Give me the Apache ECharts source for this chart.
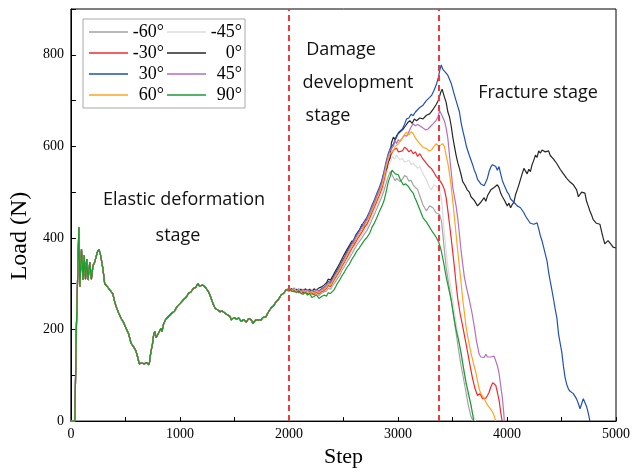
<!DOCTYPE html>
<html>
<head>
<meta charset="utf-8">
<script src="https://cdn.jsdelivr.net/npm/echarts@6/dist/echarts.min.js"></script>
<style>html,body{margin:0;padding:0;background:#fff}#c{width:633px;height:473px}</style>
</head>
<body>
<div id="c"></div>
<script>
// ---- DATA ----
var seriesNames = ['-60°', '-45°', '-30°', '0°', '30°', '45°', '60°', '90°'];
var seriesColors = ['#a3a3a3', '#dcdcdc', '#f2282e', '#262626', '#1f50b5', '#b46ec2', '#ffa51f', '#1b9a33'];
var stageLines = [2000, 3370];
var xTicks = [0, 1000, 2000, 3000, 4000, 5000];
var yTicks = [0, 200, 400, 600, 800];

// common elastic-stage curve (all specimens overlap here)
var sharedCurve = [[0,0],[36,0],[50,200],[73,423],[82,293],[97,375],[112,308],[121,362],[134,310],[145,354],[157,308],[173,347],[188,310],[203,340],[218,347],[243,369],[257,375],[273,362],[294,332],[310,300],[325,298],[340,292],[355,287],[370,288],[385,278],[400,262],[415,250],[438,236],[461,224],[484,215],[506,203],[530,190],[552,170],[575,162],[597,153],[612,140],[627,125],[650,127],[673,125],[695,128],[718,123],[733,150],[748,168],[760,190],[770,196],[782,182],[794,185],[810,195],[825,203],[836,196],[850,212],[867,221],[882,218],[897,229],[912,226],[927,236],[950,240],[973,250],[988,248],[1003,257],[1018,255],[1033,265],[1055,270],[1079,279],[1100,282],[1124,290],[1145,292],[1164,300],[1180,295],[1194,293],[1210,297],[1230,293],[1245,290],[1261,283],[1276,275],[1291,265],[1306,255],[1321,247],[1340,244],[1367,239],[1390,240],[1412,236],[1435,232],[1458,229],[1473,221],[1495,226],[1518,223],[1540,225],[1564,218],[1585,222],[1609,216],[1630,224],[1655,221],[1670,213],[1690,220],[1715,221],[1730,225],[1745,221],[1760,226],[1776,229],[1790,228],[1806,236],[1820,240],[1836,247],[1860,252],[1882,261],[1905,266],[1927,275],[1950,279],[1973,286],[1990,283]];

var loadM60 = [[2003,288],[2025,286],[2048,282],[2070,284],[2090,280],[2109,283],[2130,278],[2150,284],[2170,279],[2190,282],[2210,276],[2230,278],[2250,281],[2276,274],[2300,279],[2321,282],[2345,284],[2360,290],[2382,288],[2400,295],[2420,302],[2442,310],[2465,318],[2488,330],[2510,338],[2533,348],[2555,356],[2579,366],[2600,375],[2624,385],[2645,392],[2670,400],[2690,408],[2715,416],[2740,428],[2761,440],[2785,452],[2806,464],[2830,478],[2852,490],[2870,502],[2890,518],[2912,535],[2930,545],[2958,532],[2975,525],[2988,530],[3003,527],[3018,523],[3040,528],[3060,536],[3079,534],[3100,524],[3120,526],[3139,516],[3160,510],[3180,506],[3200,492],[3230,472],[3261,459],[3290,470],[3321,466],[3350,455],[3382,451],[3398,438],[3412,408],[3427,370],[3442,336],[3465,300],[3488,265],[3510,228],[3533,193],[3555,157],[3579,121],[3600,95],[3624,63],[3645,35],[3670,10],[3690,0]];

var loadM45 = [[2003,286],[2025,288],[2048,285],[2070,282],[2090,286],[2109,281],[2130,284],[2150,279],[2170,283],[2190,280],[2210,278],[2230,283],[2250,279],[2276,284],[2300,281],[2321,286],[2345,289],[2360,294],[2382,292],[2400,300],[2420,308],[2442,315],[2465,324],[2488,335],[2510,343],[2533,353],[2555,362],[2579,372],[2600,380],[2624,390],[2645,398],[2670,407],[2690,415],[2715,423],[2740,435],[2761,447],[2785,460],[2806,472],[2830,487],[2852,500],[2870,515],[2890,535],[2912,555],[2930,565],[2950,578],[2970,572],[2988,581],[3003,575],[3018,570],[3040,574],[3060,566],[3079,567],[3100,570],[3120,560],[3139,563],[3160,558],[3180,552],[3200,556],[3230,540],[3261,527],[3285,512],[3306,505],[3330,516],[3352,513],[3375,508],[3391,505],[3400,485],[3415,440],[3427,408],[3442,372],[3458,336],[3480,300],[3503,265],[3525,228],[3548,193],[3570,155],[3594,121],[3615,90],[3635,62],[3655,49],[3680,20],[3712,0]];

var loadM30 = [[2003,284],[2025,287],[2048,283],[2070,286],[2090,281],[2109,285],[2130,280],[2150,283],[2170,277],[2190,284],[2210,279],[2230,276],[2250,282],[2276,278],[2300,283],[2321,285],[2345,290],[2360,296],[2382,294],[2400,302],[2420,311],[2442,319],[2465,328],[2488,339],[2510,348],[2533,358],[2555,368],[2579,378],[2600,386],[2624,396],[2645,404],[2670,413],[2690,422],[2715,430],[2740,443],[2761,455],[2785,468],[2806,480],[2830,494],[2852,508],[2870,524],[2890,545],[2912,565],[2930,578],[2958,592],[2975,588],[2988,596],[3003,588],[3018,584],[3040,590],[3060,598],[3079,595],[3100,588],[3120,592],[3139,584],[3160,588],[3180,578],[3200,584],[3230,572],[3261,563],[3285,556],[3306,552],[3330,543],[3352,534],[3375,528],[3391,523],[3410,515],[3427,505],[3442,488],[3458,459],[3473,430],[3488,400],[3503,368],[3518,336],[3533,300],[3548,268],[3570,235],[3594,207],[3617,178],[3640,149],[3662,120],[3685,92],[3708,70],[3730,56],[3752,60],[3776,49],[3791,45],[3806,50],[3821,56],[3836,63],[3852,75],[3870,84],[3882,88],[3897,78],[3912,63],[3930,42],[3942,20],[3955,0]];

var load0 = [[2003,287],[2025,289],[2048,284],[2070,288],[2090,283],[2109,288],[2130,282],[2150,289],[2170,284],[2190,288],[2210,283],[2230,289],[2250,286],[2276,291],[2300,293],[2321,297],[2345,302],[2360,310],[2382,308],[2400,316],[2420,325],[2442,334],[2465,344],[2488,355],[2503,362],[2533,375],[2555,384],[2579,394],[2594,387],[2610,405],[2630,412],[2650,418],[2670,430],[2685,423],[2700,436],[2720,442],[2745,451],[2765,466],[2785,478],[2806,492],[2820,500],[2836,509],[2852,522],[2870,540],[2897,552],[2910,566],[2927,574],[2940,608],[2958,620],[2975,615],[2988,624],[3003,620],[3018,631],[3033,630],[3048,638],[3070,645],[3090,652],[3109,656],[3130,650],[3150,660],[3170,656],[3200,662],[3230,660],[3261,668],[3291,671],[3320,680],[3352,692],[3370,700],[3391,717],[3405,725],[3427,707],[3442,696],[3458,675],[3473,664],[3488,645],[3503,620],[3518,600],[3533,581],[3548,565],[3564,552],[3579,538],[3594,523],[3615,515],[3635,505],[3655,500],[3670,490],[3685,487],[3700,482],[3715,480],[3730,470],[3745,473],[3760,478],[3776,477],[3791,488],[3806,480],[3821,492],[3836,495],[3852,505],[3867,502],[3882,510],[3897,508],[3912,516],[3927,510],[3942,498],[3958,490],[3973,484],[3988,487],[4003,470],[4018,476],[4033,466],[4048,473],[4064,478],[4079,495],[4094,505],[4109,516],[4124,528],[4139,540],[4155,552],[4170,548],[4185,540],[4200,550],[4215,545],[4230,560],[4246,570],[4261,581],[4276,576],[4291,590],[4306,585],[4321,592],[4336,595],[4351,588],[4367,584],[4382,590],[4397,580],[4412,578],[4427,572],[4442,574],[4458,562],[4473,558],[4488,550],[4503,545],[4518,540],[4533,536],[4548,530],[4564,530],[4579,522],[4594,518],[4609,516],[4624,516],[4639,505],[4655,490],[4670,487],[4685,500],[4700,502],[4715,498],[4730,480],[4745,470],[4761,459],[4776,450],[4791,440],[4806,437],[4821,432],[4837,435],[4852,430],[4867,415],[4882,400],[4897,387],[4912,390],[4927,394],[4942,394],[4958,385],[4973,380],[4988,376],[5000,378]];

var load30 = [[2003,288],[2025,284],[2048,289],[2070,283],[2090,288],[2109,282],[2130,287],[2150,281],[2170,286],[2190,280],[2210,286],[2230,281],[2250,288],[2276,284],[2300,289],[2321,292],[2345,297],[2360,305],[2382,303],[2400,311],[2420,320],[2442,329],[2465,338],[2488,349],[2510,358],[2533,370],[2555,380],[2579,390],[2600,399],[2624,409],[2645,417],[2670,428],[2690,436],[2715,445],[2740,458],[2761,471],[2785,484],[2806,497],[2830,511],[2852,526],[2870,543],[2890,565],[2912,585],[2930,596],[2958,605],[2975,615],[2988,620],[3003,630],[3018,626],[3040,638],[3060,648],[3079,660],[3100,662],[3120,670],[3139,667],[3160,675],[3180,680],[3200,685],[3230,690],[3260,700],[3291,707],[3310,712],[3330,722],[3352,735],[3370,750],[3382,765],[3397,778],[3412,768],[3427,772],[3442,760],[3458,755],[3473,752],[3488,738],[3503,725],[3518,712],[3533,700],[3548,688],[3564,675],[3579,652],[3594,635],[3609,620],[3630,598],[3655,580],[3685,560],[3700,548],[3715,540],[3730,528],[3745,523],[3760,518],[3775,520],[3791,514],[3806,516],[3820,530],[3836,545],[3852,555],[3867,560],[3882,559],[3897,556],[3912,548],[3927,556],[3942,540],[3958,525],[3973,516],[3988,508],[4003,500],[4018,495],[4033,485],[4048,487],[4064,478],[4080,476],[4094,470],[4109,472],[4124,466],[4139,462],[4155,455],[4170,448],[4185,442],[4200,437],[4215,432],[4230,436],[4246,430],[4261,434],[4276,433],[4291,420],[4306,405],[4321,394],[4336,380],[4351,365],[4367,350],[4382,325],[4397,305],[4412,286],[4428,265],[4442,245],[4458,225],[4473,190],[4488,170],[4503,150],[4518,120],[4533,95],[4548,80],[4564,70],[4579,65],[4594,63],[4609,60],[4624,56],[4639,48],[4655,38],[4670,27],[4685,38],[4700,49],[4715,50],[4730,32],[4745,18],[4761,0]];

var load45 = [[2003,289],[2025,286],[2048,291],[2070,284],[2090,289],[2109,283],[2130,288],[2150,282],[2170,287],[2190,281],[2210,285],[2230,280],[2250,287],[2276,283],[2300,287],[2321,290],[2345,295],[2360,302],[2382,300],[2400,308],[2420,317],[2442,325],[2465,335],[2488,346],[2510,355],[2533,366],[2555,376],[2579,386],[2600,395],[2624,405],[2645,413],[2670,423],[2690,432],[2715,440],[2740,453],[2761,466],[2785,479],[2806,492],[2830,506],[2852,520],[2870,537],[2890,560],[2912,580],[2930,592],[2958,600],[2975,612],[2988,606],[3003,615],[3018,610],[3040,618],[3060,624],[3079,622],[3094,628],[3115,640],[3139,649],[3160,645],[3180,648],[3200,645],[3230,640],[3255,636],[3276,638],[3300,644],[3321,649],[3345,655],[3367,664],[3382,678],[3395,672],[3412,671],[3427,655],[3442,640],[3458,617],[3473,580],[3488,545],[3503,510],[3518,490],[3533,470],[3548,444],[3564,408],[3579,372],[3594,343],[3609,315],[3630,290],[3655,265],[3680,235],[3700,207],[3720,175],[3745,146],[3760,140],[3776,142],[3791,139],[3806,146],[3821,140],[3836,144],[3851,140],[3867,144],[3882,142],[3897,138],[3912,121],[3927,105],[3942,78],[3958,50],[3970,20],[3975,0]];

var load60 = [[2003,287],[2025,283],[2048,288],[2070,282],[2090,287],[2109,281],[2130,285],[2150,280],[2170,284],[2190,278],[2210,283],[2230,279],[2250,284],[2276,280],[2300,285],[2321,288],[2345,292],[2360,299],[2382,297],[2400,305],[2420,314],[2442,322],[2465,331],[2488,342],[2510,351],[2533,362],[2555,372],[2579,382],[2600,390],[2624,400],[2645,408],[2670,418],[2690,427],[2715,435],[2740,448],[2761,460],[2785,473],[2806,485],[2830,499],[2852,514],[2870,530],[2890,552],[2912,572],[2930,585],[2958,590],[2975,600],[2988,596],[3003,605],[3018,612],[3040,618],[3060,626],[3079,631],[3100,625],[3120,632],[3139,628],[3160,618],[3180,612],[3200,606],[3230,598],[3261,595],[3285,590],[3306,592],[3330,600],[3352,606],[3375,600],[3391,602],[3410,606],[3427,599],[3442,580],[3458,563],[3473,540],[3488,513],[3503,480],[3518,445],[3533,408],[3548,372],[3564,336],[3580,300],[3594,265],[3610,236],[3624,207],[3645,178],[3670,149],[3690,128],[3715,106],[3730,88],[3745,70],[3760,60],[3776,63],[3791,49],[3806,45],[3821,35],[3845,28],[3867,20],[3882,12],[3897,0]];

var load90 = [[2003,290],[2025,284],[2048,283],[2070,281],[2090,285],[2109,279],[2130,277],[2150,281],[2170,275],[2190,279],[2210,270],[2230,272],[2250,276],[2276,268],[2300,272],[2321,275],[2345,273],[2360,280],[2382,279],[2400,283],[2412,286],[2430,294],[2442,300],[2465,308],[2488,318],[2510,326],[2533,336],[2555,343],[2579,354],[2600,362],[2624,372],[2645,378],[2670,387],[2690,394],[2715,401],[2740,410],[2761,423],[2785,433],[2806,444],[2830,458],[2852,469],[2870,480],[2882,491],[2900,510],[2912,523],[2930,535],[2945,548],[2958,552],[2975,540],[2988,541],[3003,538],[3020,528],[3035,522],[3048,516],[3070,518],[3094,513],[3115,505],[3139,498],[3155,488],[3170,480],[3200,462],[3230,444],[3260,435],[3291,423],[3320,412],[3352,401],[3375,390],[3397,372],[3420,345],[3442,315],[3465,290],[3488,265],[3510,232],[3533,200],[3555,178],[3579,149],[3600,118],[3624,85],[3645,62],[3670,35],[3685,15],[3695,0]];

var specimenLoads = [loadM60, loadM45, loadM30, load0, load30, load45, load60, load90];

// ---- CHART ----
var chart = echarts.init(document.getElementById('c'), null, {renderer: 'canvas'});
var serif = 'Liberation Serif';
var sans = 'Open Sans';

var series = seriesNames.map(function (name, i) {
  var s = {
    name: name,
    type: 'line',
    data: sharedCurve.concat(specimenLoads[i]),
    symbol: 'none',
    showSymbol: false,
    smooth: false,
    lineStyle: {color: seriesColors[i], width: 1.2},
    itemStyle: {color: seriesColors[i]},
    emphasis: {disabled: true},
    z: 2 + i
  };
  if (i === seriesNames.length - 1) {
    s.markLine = {
      silent: true,
      symbol: ['none', 'none'],
      label: {show: false},
      lineStyle: {color: '#ee3a3f', type: [6, 4], width: 2},
      data: stageLines.map(function (v) { return {xAxis: v}; }),
      z: 20
    };
  }
  return s;
});

function note(text, x, y) {
  return {type: 'text', style: {text: text, x: x, y: y, fontFamily: sans, fontSize: 18, fill: '#111', align: 'center', verticalAlign: 'middle'}};
}

var option = {
  animation: false,
  backgroundColor: '#fff',
  grid: {left: 68, right: 16, top: 9, bottom: 47, show: true, borderColor: '#000', borderWidth: 1},
  legend: {
    data: seriesNames,
    left: 83, top: 19,
    width: 160,
    orient: 'horizontal',
    icon: 'rect',
    itemWidth: 39, itemHeight: 1.5, itemGap: 3,
    padding: [4, 3, 4, 6],
    borderColor: '#a8a8a8', borderWidth: 1,
    backgroundColor: '#fff',
    selectedMode: false,
    formatter: function (n) { return '{a|' + n + '}'; },
    textStyle: {
      fontFamily: serif, fontSize: 18, color: '#000',
      rich: {a: {fontFamily: serif, fontSize: 18, width: 31, align: 'right', lineHeight: 18.5, color: '#000'}}
    }
  },
  xAxis: {
    type: 'value', min: 0, max: 5000, interval: 500,
    name: 'Step', nameLocation: 'middle', nameGap: 23,
    nameTextStyle: {fontFamily: serif, fontSize: 22, color: '#000'},
    axisLine: {show: true, lineStyle: {color: '#000', width: 1}},
    axisTick: {show: true, inside: true, length: 4, lineStyle: {color: '#000'}},
    axisLabel: {
      fontFamily: serif, fontSize: 14, color: '#000', margin: 6,
      formatter: function (v) { return xTicks.indexOf(v) >= 0 ? String(v) : ''; }
    },
    splitLine: {show: false}
  },
  yAxis: {
    type: 'value', min: 0, max: 900, interval: 100,
    name: 'Load (N)', nameLocation: 'middle', nameGap: 38,
    nameTextStyle: {fontFamily: serif, fontSize: 24, color: '#000', padding: [0, 42, 0, 0]},
    axisLine: {show: true, lineStyle: {color: '#000', width: 1}},
    axisTick: {show: true, inside: true, length: 5, lineStyle: {color: '#000'}},
    axisLabel: {
      fontFamily: serif, fontSize: 14, color: '#000', margin: 7,
      formatter: function (v) { return yTicks.indexOf(v) >= 0 ? String(v) : ''; }
    },
    splitLine: {show: false}
  },
  graphic: [
    note('Elastic deformation', 184, 200),
    note('stage', 178, 236),
    note('Damage', 341, 50),
    note('development', 358, 83),
    note('stage', 328, 116),
    note('Fracture stage', 538, 93)
  ],
  series: series
};
chart.setOption(option);
</script>
</body>
</html>
